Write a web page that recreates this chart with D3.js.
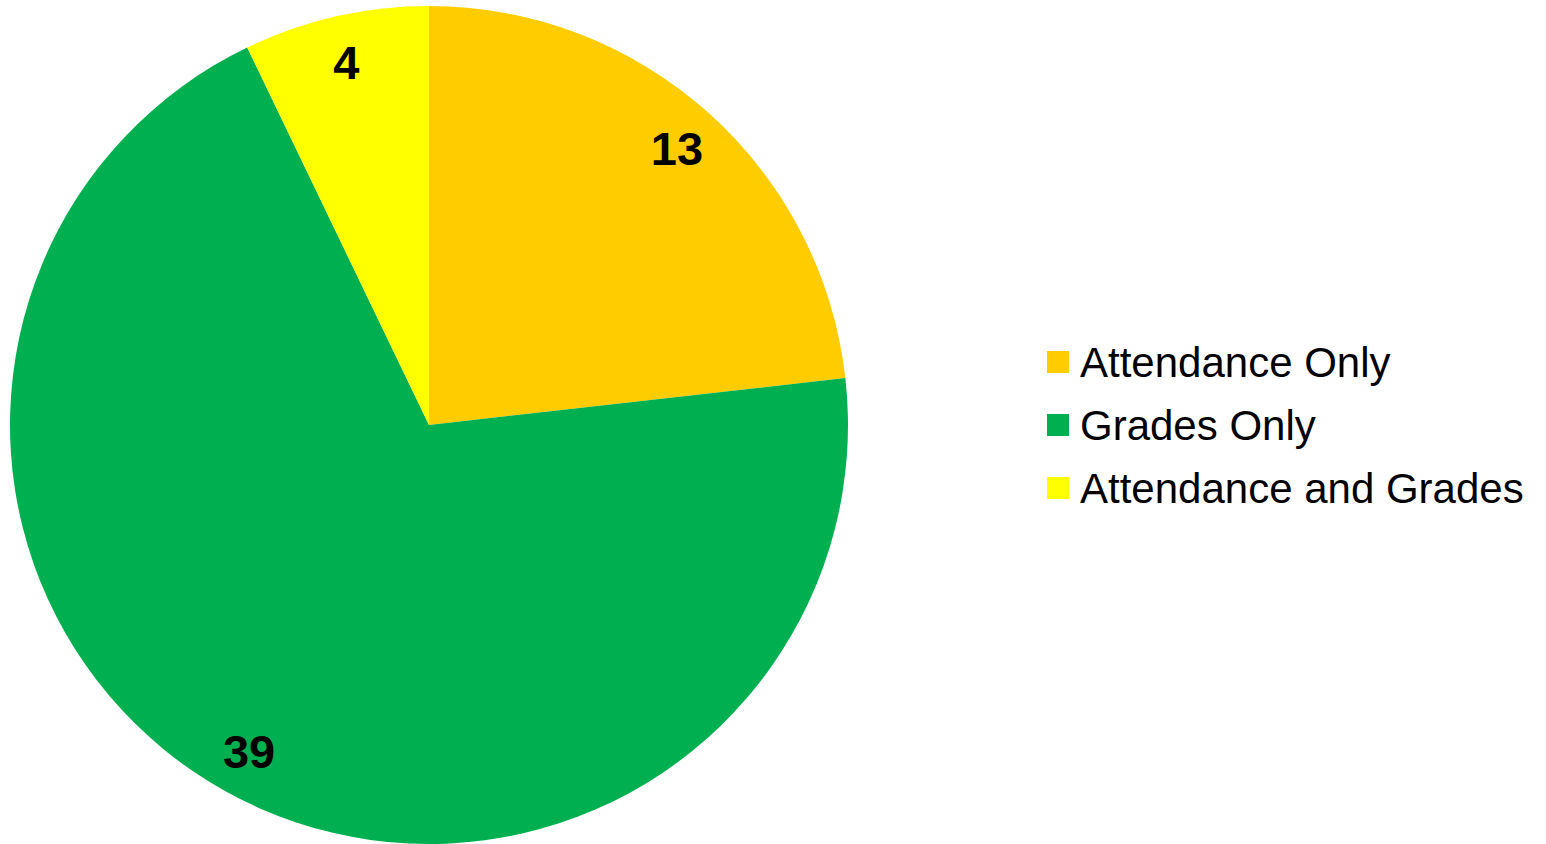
<!DOCTYPE html>
<html>
<head>
<script src="https://cdn.jsdelivr.net/npm/d3@7"></script>
<style>
  body { margin: 0; background: #fff; }
  text { font-family: "Liberation Sans", Arial, sans-serif; }
</style>
</head>
<body>
<svg width="1546" height="844"></svg>
<script>
  const categories = ["Attendance Only", "Grades Only", "Attendance and Grades"];
  const values = [13, 39, 4];
  const colors = ["#FFCC00", "#00B050", "#FFFF00"];

  const svg = d3.select("svg");
  const cx = 429, cy = 425, radius = 419;

  const data = categories.map((c, i) => ({ name: c, value: values[i], color: colors[i] }));

  const pie = d3.pie().value(d => d.value).sort(null);
  const arc = d3.arc().innerRadius(0).outerRadius(radius);
  const labelArc = d3.arc().innerRadius(372).outerRadius(372);

  const g = svg.append("g").attr("transform", `translate(${cx},${cy})`);
  const arcs = pie(data);

  g.selectAll("path")
    .data(arcs)
    .enter().append("path")
    .attr("d", arc)
    .attr("fill", d => d.data.color);

  g.selectAll("text")
    .data(arcs)
    .enter().append("text")
    .attr("transform", d => `translate(${labelArc.centroid(d)})`)
    .attr("text-anchor", "middle")
    .attr("dy", "0.36em")
    .style("font-size", "47px")
    .style("font-weight", "bold")
    .text(d => d.data.value);

  // legend
  const legend = svg.append("g").attr("transform", "translate(1047,362)");
  const item = legend.selectAll("g")
    .data(data)
    .enter().append("g")
    .attr("transform", (d, i) => `translate(0,${i * 63})`);

  item.append("rect")
    .attr("x", 0).attr("y", -11)
    .attr("width", 22).attr("height", 22)
    .attr("fill", d => d.color);

  item.append("text")
    .attr("x", 33)
    .attr("y", 15)
    .style("font-size", "42px")
    .text(d => d.name);
</script>
</body>
</html>
